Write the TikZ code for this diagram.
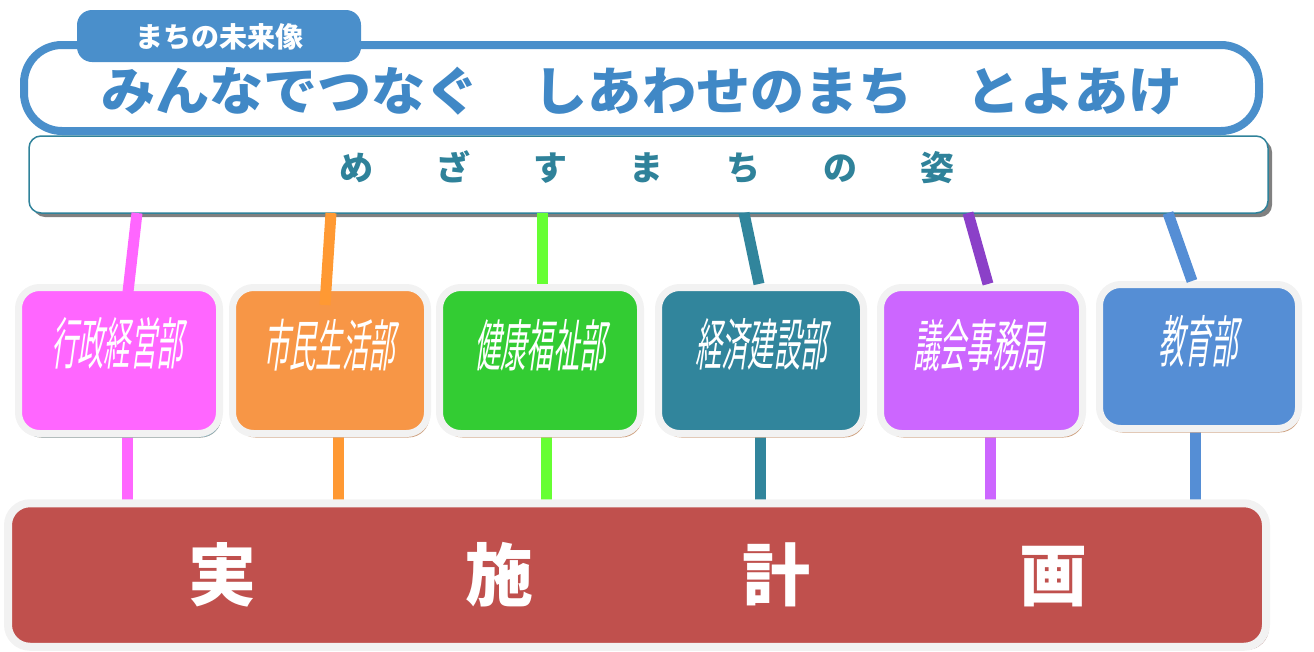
\documentclass[tikz,border=0pt]{standalone}
\usepackage{fontspec}
\newfontfamily\cjk{Noto Sans CJK JP}
\usetikzlibrary{shadows}
\definecolor{frameblue}{HTML}{4A8FCB}
\definecolor{titleblue}{HTML}{4088C6}
\definecolor{visteal}{HTML}{2F829A}
\definecolor{boxgrey}{HTML}{F2F2F2}
\definecolor{shbrown}{HTML}{CFA383}
\definecolor{shblue}{HTML}{8FB0BA}
\definecolor{cpink}{HTML}{FF66FF}
\definecolor{corange}{HTML}{F79646}
\definecolor{lorange}{HTML}{FF9933}
\definecolor{cgreen}{HTML}{33CC33}
\definecolor{lgreen}{HTML}{66FF33}
\definecolor{cteal}{HTML}{31859C}
\definecolor{cpurple}{HTML}{CC66FF}
\definecolor{lpurple}{HTML}{8B40C8}
\definecolor{cblue}{HTML}{558ED5}
\definecolor{cred}{HTML}{C0504D}
\tikzset{
  deptbox/.style={draw=boxgrey, line width=7pt, rounded corners=21pt,
    minimum height=146pt, inner sep=0pt,
    drop shadow={shadow xshift=2pt, shadow yshift=-4pt, fill=shbrown, opacity=1}},
  depttext/.style={text=white, inner sep=0pt, xscale=0.47, xslant=0.3,
    font=\cjk\fontsize{56}{60}\selectfont},
  conn/.style={line width=11pt},
}
\begin{document}
\begin{tikzpicture}[x=1pt,y=-1pt]
\useasboundingbox (0,0) rectangle (1314,651);
% main frame and tab
\node[draw=frameblue, line width=8pt, fill=white, rounded corners=38pt,
  minimum width=1235pt, minimum height=86pt, inner sep=0pt] (frame) at (641.5,88) {};
\node[fill=frameblue, rounded corners=15pt, minimum width=284pt, minimum height=52pt,
  inner sep=0pt] (tab) at (219,36) {};
\node[text=white, inner sep=0pt, font=\cjk\bfseries\fontsize{28}{32}\selectfont] (tabtext) at (219,37) {まちの未来像};
\node[text=titleblue, inner sep=0pt, xscale=1.04, font=\cjk\bfseries\fontsize{52}{60}\selectfont] (title) at (642,91) {みんなでつなぐ　しあわせのまち　とよあけ};
% vision box
\node[draw=visteal, line width=1.5pt, fill=white, rounded corners=12pt,
  minimum width=1239pt, minimum height=77pt, inner sep=0pt,
  drop shadow={shadow xshift=4pt, shadow yshift=-4pt, fill=gray, opacity=1}] (vision) at (648.5,174.5) {};
\node[text=visteal, inner sep=0pt, font=\cjk\bfseries\fontsize{34}{40}\selectfont] (vistext) at (647,167)
  {め\hspace{62.7pt}ざ\hspace{62.7pt}す\hspace{62.7pt}ま\hspace{62.7pt}ち\hspace{62.7pt}の\hspace{62.7pt}姿};
% lower connectors (behind boxes)
\coordinate (b1) at (127,430); \coordinate (b2) at (338,430); \coordinate (b3) at (546,430);
\coordinate (b4) at (760,430); \coordinate (b5) at (990,430); \coordinate (b6) at (1195,425);
\coordinate (r1) at (127,510); \coordinate (r2) at (338,510); \coordinate (r3) at (546,510);
\coordinate (r4) at (760,510); \coordinate (r5) at (990,510); \coordinate (r6) at (1195,510);
\draw[conn, cpink] (b1) -- (r1);
\draw[conn, lorange] (b2) -- (r2);
\draw[conn, lgreen] (b3) -- (r3);
\draw[conn, cteal] (b4) -- (r4);
\draw[conn, cpurple] (b5) -- (r5);
\draw[conn, cblue] (b6) -- (r6);
% implementation plan box
\node[draw=boxgrey, line width=8pt, fill=cred, rounded corners=22pt,
  minimum width=1258pt, minimum height=143.5pt, inner sep=0pt,
  drop shadow={shadow xshift=3pt, shadow yshift=-3pt, fill=cred!50!gray, opacity=0.8}] (plan) at (637,575) {};
\node[text=white, inner sep=0pt, font=\cjk\bfseries\fontsize{68}{72}\selectfont] (plantext) at (638,575)
  {実\hspace{208.7pt}施\hspace{208.7pt}計\hspace{208.7pt}画};
% department boxes
\node[deptbox, fill=cpink, minimum width=201pt,
  drop shadow={shadow xshift=2pt, shadow yshift=-4pt, fill=shblue, opacity=1}] (d1) at (119,360.5) {};
\node[deptbox, fill=corange, minimum width=195pt] (d2) at (330,360.5) {};
\node[deptbox, fill=cgreen, minimum width=201pt] (d3) at (540,360.5) {};
\node[deptbox, fill=cteal, minimum width=205pt] (d4) at (761,360.5) {};
\node[deptbox, fill=cpurple, minimum width=202pt] (d5) at (981.5,360.5) {};
\node[deptbox, fill=cblue, minimum width=199pt, minimum height=144pt] (d6) at (1199,356.5) {};
\node[depttext] (t1) at (120,343) {行政経営部};
\node[depttext] (t2) at (332,345) {市民生活部};
\node[depttext] (t3) at (543,345) {健康福祉部};
\node[depttext] (t4) at (764,344) {経済建設部};
\node[depttext] (t5) at (982,345) {議会事務局};
\node[depttext] (t6) at (1201,341) {教育部};
% upper connectors
\coordinate (u1) at (137,213); \coordinate (u2) at (331,213); \coordinate (u3) at (542,213);
\coordinate (u4) at (744,213); \coordinate (u5) at (968,213); \coordinate (u6) at (1168,213);
\coordinate (e1) at (128,292); \coordinate (e2) at (325,305); \coordinate (e3) at (542,284);
\coordinate (e4) at (759,284); \coordinate (e5) at (988,284); \coordinate (e6) at (1192,281);
\draw[conn, cpink] (u1) -- (e1);
\draw[conn, lorange] (u2) -- (e2);
\draw[conn, lgreen] (u3) -- (e3);
\draw[conn, cteal] (u4) -- (e4);
\draw[conn, lpurple] (u5) -- (e5);
\draw[conn, cblue] (u6) -- (e6);
\end{tikzpicture}
\end{document}
